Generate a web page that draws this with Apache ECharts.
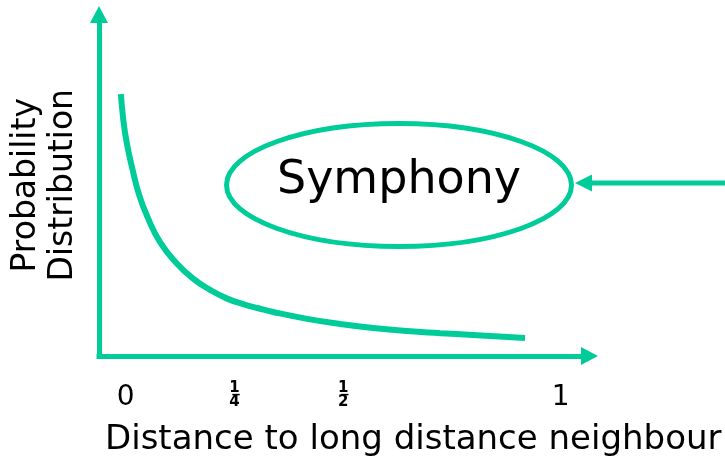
<!DOCTYPE html>
<html>
<head>
<meta charset="utf-8">
<script src="https://cdn.jsdelivr.net/npm/echarts@6/dist/echarts.min.js"></script>
<style>
  html, body { margin: 0; padding: 0; background: #ffffff; }
  #chart { width: 725px; height: 462px; }
</style>
</head>
<body>
<div id="chart"></div>
<script>
// Distance to the long-distance neighbour (x) and probability density (y)
const distance = [-0.011, -0.006, 0.002, 0.015, 0.031, 0.051, 0.079, 0.117, 0.155, 0.194, 0.232,
                  0.270, 0.305, 0.339, 0.417, 0.493, 0.569, 0.647, 0.723, 0.798, 0.918];
const density  = [7.68, 6.98, 6.28, 5.51, 4.72, 4.05, 3.34, 2.72, 2.27, 1.94, 1.69,
                  1.52, 1.40, 1.29, 1.09, 0.94, 0.82, 0.73, 0.67, 0.615, 0.53];

// Tick positions on the distance axis and their labels
const tickValues = [0, 0.25, 0.5, 1];
const tickLabels = ['0', '1/4', '1/2', '1'];

const GREEN = '#00CC99';
const FONT = 'DejaVu Sans';

const chart = echarts.init(document.getElementById('chart'));

// Whole numbers as plain text; fractions stacked, numerator underlined as the bar
function fmtTick(v) {
  const i = tickValues.findIndex(t => Math.abs(t - v) < 1e-9);
  if (i < 0) return '';
  const s = tickLabels[i];
  if (s.indexOf('/') >= 0) {
    const [n, d] = s.split('/');
    return '{n|' + n + '\u0332}\n{n|' + d + '}';
  }
  return '{w|' + s + '}';
}

const arrowLine = {
  show: true,
  onZero: false,
  symbol: ['none', 'triangle'],
  symbolSize: [18, 17],
  lineStyle: { color: GREEN, width: 5, cap: 'square' }
};

chart.setOption({
  backgroundColor: '#ffffff',
  animation: false,
  grid: { left: 99, right: 135.5, top: 14.5, bottom: 106, outerBoundsMode: 'none', containLabel: false },
  xAxis: {
    type: 'value',
    min: -0.0614,
    max: 1.0662,
    name: 'Distance to long distance neighbour',
    nameLocation: 'middle',
    nameGap: 84,
    nameTextStyle: {
      fontFamily: FONT, fontSize: 34, color: '#000',
      verticalAlign: 'middle', padding: [0, 0, 0, 138]
    },
    axisLine: arrowLine,
    axisTick: { show: false },
    splitLine: { show: false },
    axisLabel: {
      customValues: tickValues,
      margin: 39,
      verticalAlign: 'middle',
      color: '#000',
      formatter: fmtTick,
      rich: {
        w: { fontFamily: FONT, fontSize: 28, color: '#000', lineHeight: 30, padding: [6, 0, 0, 0] },
        n: { fontFamily: FONT, fontSize: 15, fontWeight: 'bold', color: '#000', lineHeight: 14 }
      }
    }
  },
  yAxis: {
    type: 'value',
    min: 0,
    max: 10.015,
    name: 'Probability\nDistribution',
    nameLocation: 'middle',
    nameRotate: 90,
    nameGap: 54,
    nameTextStyle: {
      fontFamily: FONT, fontSize: 33, color: '#000', lineHeight: 37,
      verticalAlign: 'middle', align: 'center'
    },
    axisLine: arrowLine,
    axisTick: { show: false },
    axisLabel: { show: false },
    splitLine: { show: false }
  },
  series: [{
    type: 'line',
    data: distance.map((d, i) => [d, density[i]]),
    smooth: 0.5,
    showSymbol: false,
    lineStyle: { color: GREEN, width: 6 }
  }],
  graphic: [
    {
      type: 'ellipse',
      shape: { cx: 399, cy: 185, rx: 172.5, ry: 61.5 },
      style: { fill: 'none', stroke: GREEN, lineWidth: 5 }
    },
    {
      type: 'text',
      x: 399, y: 181,
      style: {
        text: 'Symphony', fontFamily: FONT, fontSize: 46, fill: '#000',
        align: 'center', verticalAlign: 'middle'
      }
    },
    {
      type: 'line',
      shape: { x1: 725, y1: 183, x2: 590, y2: 183 },
      style: { stroke: GREEN, lineWidth: 5 }
    },
    {
      type: 'polygon',
      shape: { points: [[575, 183], [592, 174.5], [592, 191.5]] },
      style: { fill: GREEN }
    }
  ]
});
</script>
</body>
</html>
